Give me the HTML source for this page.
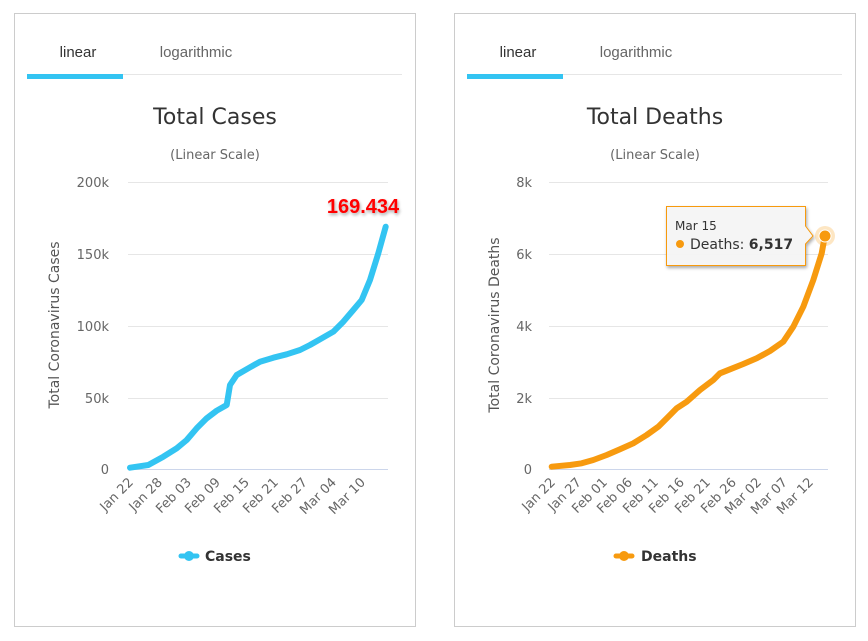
<!DOCTYPE html>
<html><head><meta charset="utf-8"><style>
body{margin:0;background:#fff;}
svg{display:block;font-family:"DejaVu Sans","Liberation Sans",sans-serif;}
</style></head><body>
<svg width="868" height="641" viewBox="0 0 868 641" xmlns="http://www.w3.org/2000/svg">
<defs>
<filter id="sh" x="-20%" y="-20%" width="140%" height="160%"><feGaussianBlur in="SourceAlpha" stdDeviation="1.5"/><feOffset dx="1" dy="2"/><feComponentTransfer><feFuncA type="linear" slope="0.35"/></feComponentTransfer><feMerge><feMergeNode/><feMergeNode in="SourceGraphic"/></feMerge></filter>
</defs>
<rect x="14.5" y="13.5" width="401" height="613" fill="#fff" stroke="#ccc"/>
<rect x="454.5" y="13.5" width="401" height="613" fill="#fff" stroke="#ccc"/>

<g font-family="Liberation Sans, sans-serif" font-size="15">
<text x="78" y="57" text-anchor="middle" fill="#333">linear</text>
<text x="196" y="57" text-anchor="middle" fill="#666">logarithmic</text>
<text x="518" y="57" text-anchor="middle" fill="#333">linear</text>
<text x="636" y="57" text-anchor="middle" fill="#666">logarithmic</text>
</g>
<line x1="27" y1="74.5" x2="402" y2="74.5" stroke="#e6e6e6"/>
<rect x="27" y="74" width="96" height="5" fill="#33c4f2"/>
<line x1="467" y1="74.5" x2="842" y2="74.5" stroke="#e6e6e6"/>
<rect x="467" y="74" width="96" height="5" fill="#33c4f2"/>

<text x="215" y="124" text-anchor="middle" font-size="22" fill="#333">Total Cases</text>
<text x="215" y="159" text-anchor="middle" font-size="13" fill="#666">(Linear Scale)</text>
<text x="655" y="124" text-anchor="middle" font-size="22" fill="#333">Total Deaths</text>
<text x="655" y="159" text-anchor="middle" font-size="13" fill="#666">(Linear Scale)</text>

<g stroke="#e6e6e6" stroke-width="1">
<line x1="128" y1="182.5" x2="388" y2="182.5"/><line x1="128" y1="254.5" x2="388" y2="254.5"/><line x1="128" y1="326.5" x2="388" y2="326.5"/><line x1="128" y1="398.5" x2="388" y2="398.5"/>
<line x1="549" y1="182.5" x2="828" y2="182.5"/><line x1="549" y1="254.5" x2="828" y2="254.5"/><line x1="549" y1="326.5" x2="828" y2="326.5"/><line x1="549" y1="398.5" x2="828" y2="398.5"/>
</g>
<line x1="128" y1="469.5" x2="388" y2="469.5" stroke="#ccd6eb"/>
<line x1="549" y1="469.5" x2="828" y2="469.5" stroke="#ccd6eb"/>

<g font-size="13" fill="#666" text-anchor="end">
<text x="109" y="187">200k</text><text x="109" y="259">150k</text><text x="109" y="331">100k</text><text x="109" y="403">50k</text><text x="109" y="474">0</text>
<text x="532" y="187">8k</text><text x="532" y="259">6k</text><text x="532" y="331">4k</text><text x="532" y="403">2k</text><text x="532" y="474">0</text>
</g>
<text transform="translate(59,325) rotate(-90)" text-anchor="middle" font-size="14" fill="#555">Total Coronavirus Cases</text>
<text transform="translate(499,325) rotate(-90)" text-anchor="middle" font-size="14" fill="#555">Total Coronavirus Deaths</text>

<g font-size="13" fill="#666" text-anchor="end">
<text transform="translate(134,483) rotate(-45)">Jan 22</text>
<text transform="translate(163,483) rotate(-45)">Jan 28</text>
<text transform="translate(192,483) rotate(-45)">Feb 03</text>
<text transform="translate(221,483) rotate(-45)">Feb 09</text>
<text transform="translate(250,483) rotate(-45)">Feb 15</text>
<text transform="translate(279,483) rotate(-45)">Feb 21</text>
<text transform="translate(308,483) rotate(-45)">Feb 27</text>
<text transform="translate(337,483) rotate(-45)">Mar 04</text>
<text transform="translate(366,483) rotate(-45)">Mar 10</text>

<text transform="translate(556,483) rotate(-45)">Jan 22</text>
<text transform="translate(582,483) rotate(-45)">Jan 27</text>
<text transform="translate(608,483) rotate(-45)">Feb 01</text>
<text transform="translate(633,483) rotate(-45)">Feb 06</text>
<text transform="translate(659,483) rotate(-45)">Feb 11</text>
<text transform="translate(685,483) rotate(-45)">Feb 16</text>
<text transform="translate(711,483) rotate(-45)">Feb 21</text>
<text transform="translate(737,483) rotate(-45)">Feb 26</text>
<text transform="translate(762,483) rotate(-45)">Mar 02</text>
<text transform="translate(788,483) rotate(-45)">Mar 07</text>
<text transform="translate(814,483) rotate(-45)">Mar 12</text>
</g>

<polyline fill="none" stroke="#33c4f2" stroke-width="6" stroke-linejoin="round" stroke-linecap="round" points="130,467.7 148.3,465 163.3,456.7 176.7,448.3 186.7,440 196.7,428.3 206.7,418.3 216.7,410.7 226.7,405 230,385 236.7,375 250,367.3 260,361.7 273.3,357.7 286.7,354.3 300,350 310,345 320,339.3 333.3,331.7 343.3,321.7 353.3,310 361.7,300 370,280 378.3,253.3 385.7,226.7"/>
<polyline fill="none" stroke="#f79a0f" stroke-width="6" stroke-linejoin="round" stroke-linecap="round" points="551.7,466.7 570,465 581.7,463.3 593.3,460 606.7,455 620,449.3 633.3,443.3 646.7,435 658.3,426.7 668.3,416.7 676.7,408.3 686.7,401.7 700,390 713.3,380 720,373.3 730,369.3 743.3,364 756.7,358.3 770,351 783.3,341.7 793.3,326.7 803.3,306.7 813.3,280 821.7,253.3 825,235"/>

<text x="363" y="213" text-anchor="middle" font-family="Liberation Sans, sans-serif" font-weight="bold" font-size="20" fill="#f00" filter="url(#sh)">169.434</text>

<circle cx="825" cy="236" r="10" fill="#f79a0f" fill-opacity="0.25"/>
<circle cx="825" cy="236" r="6" fill="#f79a0f" stroke="#fff" stroke-width="1"/>
<path d="M666.5,206.5 H805.5 V226 L813,236 L805.5,244 V265.5 H666.5 Z" fill="#f7f7f7" fill-opacity="0.95" stroke="#f79a0f" filter="url(#sh)"/>
<text x="675" y="230" font-size="12" fill="#333">Mar 15</text>
<circle cx="680" cy="244" r="4" fill="#f79a0f"/>
<text x="690" y="249" font-size="14" fill="#333">Deaths: <tspan font-weight="bold">6,517</tspan></text>

<line x1="181" y1="556" x2="197" y2="556" stroke="#33c4f2" stroke-width="5" stroke-linecap="round"/>
<circle cx="189" cy="556" r="5" fill="#33c4f2"/>
<text x="205" y="561" font-size="14" font-weight="bold" fill="#333">Cases</text>
<line x1="616" y1="556" x2="632" y2="556" stroke="#f79a0f" stroke-width="5" stroke-linecap="round"/>
<circle cx="624" cy="556" r="5" fill="#f79a0f"/>
<text x="641" y="561" font-size="14" font-weight="bold" fill="#333">Deaths</text>
</svg>
</body></html>
